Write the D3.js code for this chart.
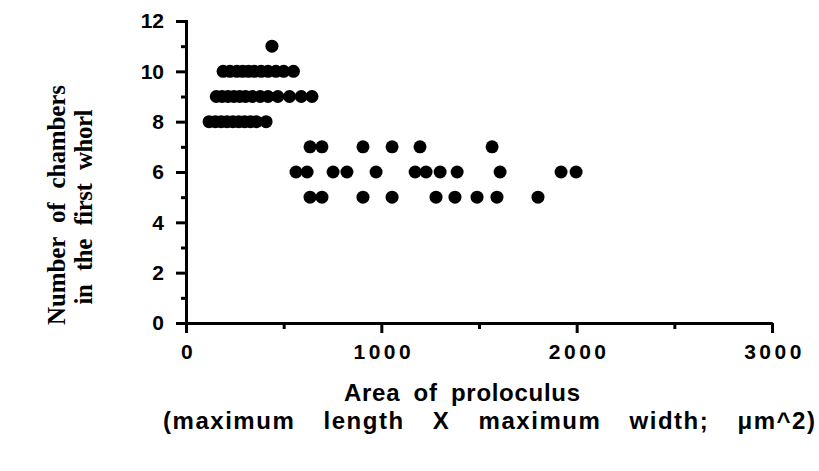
<!DOCTYPE html>
<html>
<head>
<meta charset="utf-8">
<script src="https://cdn.jsdelivr.net/npm/d3@7"></script>
<style>
  body { margin: 0; background: #fff; }
  .domain, .tick line { stroke: #000; stroke-width: 3px; }
</style>
</head>
<body>
<div id="chart"></div>
<script>
// chamber counts (y) and proloculus areas (x), one row per count
const chambers = [11, 10, 9, 8, 7, 6, 5]
const areas11 = [440]
const areas10 = [190, 225, 260, 290, 320, 350, 385, 420, 460, 500, 550]
const areas9 = [155, 185, 215, 245, 275, 305, 340, 380, 420, 470, 530, 590, 645]
const areas8 = [118, 150, 180, 210, 240, 270, 300, 330, 360, 410]
const areas7 = [635, 696, 906, 1055, 1198, 1567]
const areas6 = [563, 620, 753, 824, 973, 1173, 1229, 1301, 1388, 1608, 1920, 1997]
const areas5 = [635, 696, 906, 1055, 1280, 1377, 1490, 1592, 1802]

const xMajor = [0, 1000, 2000, 3000]
const xMinor = [500, 1500, 2500]
const yMajor = [0, 2, 4, 6, 8, 10, 12]
const yMinor = [1, 3, 5, 7, 9, 11]

const rows = [areas11, areas10, areas9, areas8, areas7, areas6, areas5]
let points = []
rows.forEach((r, i) => r.forEach(a => points.push({x: a, y: chambers[i]})))

const width = 819, height = 471
const margin = {top: 21, left: 186, right: 47, bottom: 148}

const svg = d3.select("#chart").append("svg")
    .attr("width", width)
    .attr("height", height)

const x = d3.scaleLinear().domain([0, 3000]).range([margin.left, width - margin.right])
const y = d3.scaleLinear().domain([0, 12]).range([height - margin.bottom, margin.top])

// x axis
const xg = svg.append("g").attr("transform", `translate(0,${y(0)})`)
xg.call(d3.axisBottom(x).tickValues(xMinor).tickSize(6).tickSizeOuter(0).tickFormat(""))
const xMaj = xg.append("g").call(d3.axisBottom(x).tickValues(xMajor).tickSize(10).tickSizeOuter(0)
    .tickPadding(11).tickFormat(d3.format("d")))
xMaj.attr("font-family", "'Liberation Sans', Arial, sans-serif")
    .attr("font-weight", "bold")
    .attr("font-size", 21)
xMaj.selectAll(".tick text").attr("letter-spacing", "3.5px").attr("dx", "2px")

// y axis
const yg = svg.append("g").attr("transform", `translate(${x(0)},0)`)
yg.call(d3.axisLeft(y).tickValues(yMinor).tickSize(5).tickSizeOuter(0).tickFormat(""))
const yMaj = yg.append("g").call(d3.axisLeft(y).tickValues(yMajor).tickSize(10).tickSizeOuter(0).tickPadding(12))
yMaj.attr("font-family", "'Liberation Sans', Arial, sans-serif")
    .attr("font-weight", "bold")
    .attr("font-size", 21)
yg.selectAll(".domain").attr("stroke-linecap", "square")

// points
svg.append("g").selectAll("circle")
    .data(points)
    .enter()
    .append("circle")
    .attr("cx", d => x(d.x))
    .attr("cy", d => y(d.y))
    .attr("r", 6.5)
    .attr("fill", "#000")

// axis titles
const xt = svg.append("g")
    .attr("font-family", "'Liberation Sans', Arial, sans-serif")
    .attr("font-weight", "bold")
    .attr("font-size", 24)
xt.append("text")
    .attr("x", 462).attr("y", 401)
    .attr("text-anchor", "middle")
    .attr("word-spacing", "6px")
    .attr("textLength", 236)
    .attr("lengthAdjust", "spacing")
    .text("Area of proloculus")
xt.append("text")
    .attr("x", 489).attr("y", 429)
    .attr("text-anchor", "middle")
    .attr("word-spacing", "20px")
    .attr("textLength", 652)
    .attr("lengthAdjust", "spacing")
    .text("(maximum length X maximum width; \u03bcm^2)")

const yt = svg.append("g")
    .attr("font-family", "'Liberation Serif', 'Times New Roman', serif")
    .attr("font-weight", "bold")
    .attr("font-size", 25)
yt.append("text")
    .attr("transform", "translate(65,205) rotate(-90)")
    .attr("text-anchor", "middle")
    .attr("word-spacing", "8px")
    .attr("textLength", 240)
    .attr("lengthAdjust", "spacing")
    .text("Number of chambers")
yt.append("text")
    .attr("transform", "translate(92,207) rotate(-90)")
    .attr("text-anchor", "middle")
    .attr("word-spacing", "8px")
    .attr("textLength", 195)
    .attr("lengthAdjust", "spacing")
    .text("in the first whorl")
</script>
</body>
</html>
